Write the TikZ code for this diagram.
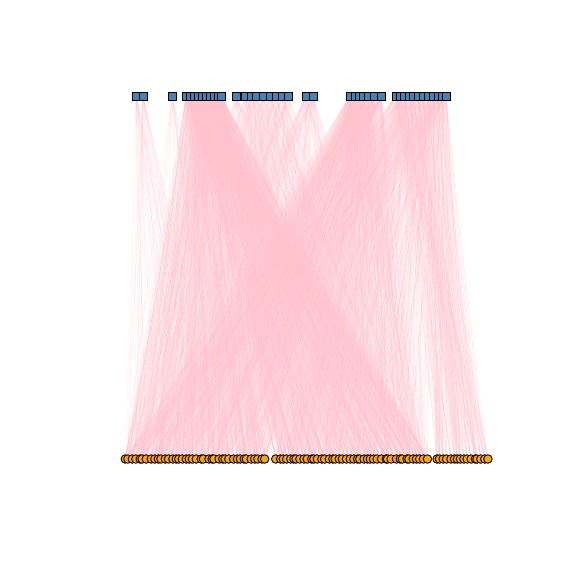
\documentclass[tikz,border=0pt]{standalone}
\usetikzlibrary{backgrounds}

\definecolor{topblue}{RGB}{70,130,180}
\definecolor{botorange}{RGB}{255,165,0}
\definecolor{linkpink}{RGB}{255,192,203}

\tikzset{
    topnode/.style={rectangle, draw=black, fill=topblue, minimum size=8pt, inner sep=0pt, line width=0.9pt},
    botnode/.style={circle, draw=black, fill=botorange, minimum size=8.5pt, inner sep=0pt, line width=0.9pt},
    linkedge/.style={draw=linkpink, line width=0.45pt, opacity=0.2}
}

\begin{document}
\begin{tikzpicture}[x=1pt, y=-1pt]

    \useasboundingbox (0,0) rectangle (576,576);

    % =================================================================
    % 1. HANG TREN: CAC NUT VUONG
    % =================================================================
    \foreach \x [count=\i] in {136,143,172,
        186,190,194,198,202,206,210,214,218,221,
        236,245,251,256,263,270,276,282,288,
        306,313,
        350,355,359,363,368,374,381,
        396,400,404,409,413,418,423,428,433,438,442,446}
        \node[topnode] (t\i) at (\x,96) {};

    % =================================================================
    % 2. HANG DUOI: CAC NUT TRON (BA DOAN)
    % =================================================================
    \pgfmathsetseed{42}
    \foreach \i in {1,...,40} {
        \pgfmathsetmacro\bx{125+3.6*(\i-1)+1.2*rand}
        \node[botnode] (b\i) at (\bx,459) {};
    }
    \foreach \i in {41,...,84} {
        \pgfmathsetmacro\bx{276+3.52*(\i-41)+1.2*rand}
        \node[botnode] (b\i) at (\bx,459) {};
    }
    \foreach \i in {85,...,100} {
        \pgfmathsetmacro\bx{437+3.4*(\i-85)+1.0*rand}
        \node[botnode] (b\i) at (\bx,459) {};
    }

    % =================================================================
    % 3. CAC CANH NOI (NAM DUOI CAC NUT)
    % =================================================================
    \begin{pgfonlayer}{background}
    \foreach \a/\b/\n/\lo/\hi in {1/2/30/1/30, 3/3/25/1/40,
        4/13/65/1/40, 4/13/85/41/84,
        14/22/45/1/84, 23/24/65/1/84,
        25/31/65/1/40, 25/31/65/41/84,
        32/43/45/1/84, 32/43/25/85/100} {
        \foreach \i in {\a,...,\b} {
            \foreach \k in {1,...,\n} {
                \pgfmathrandominteger{\j}{\lo}{\hi}
                \draw[linkedge] (t\i) -- (b\j);
            }
        }
    }
    \end{pgfonlayer}

\end{tikzpicture}
\end{document}
